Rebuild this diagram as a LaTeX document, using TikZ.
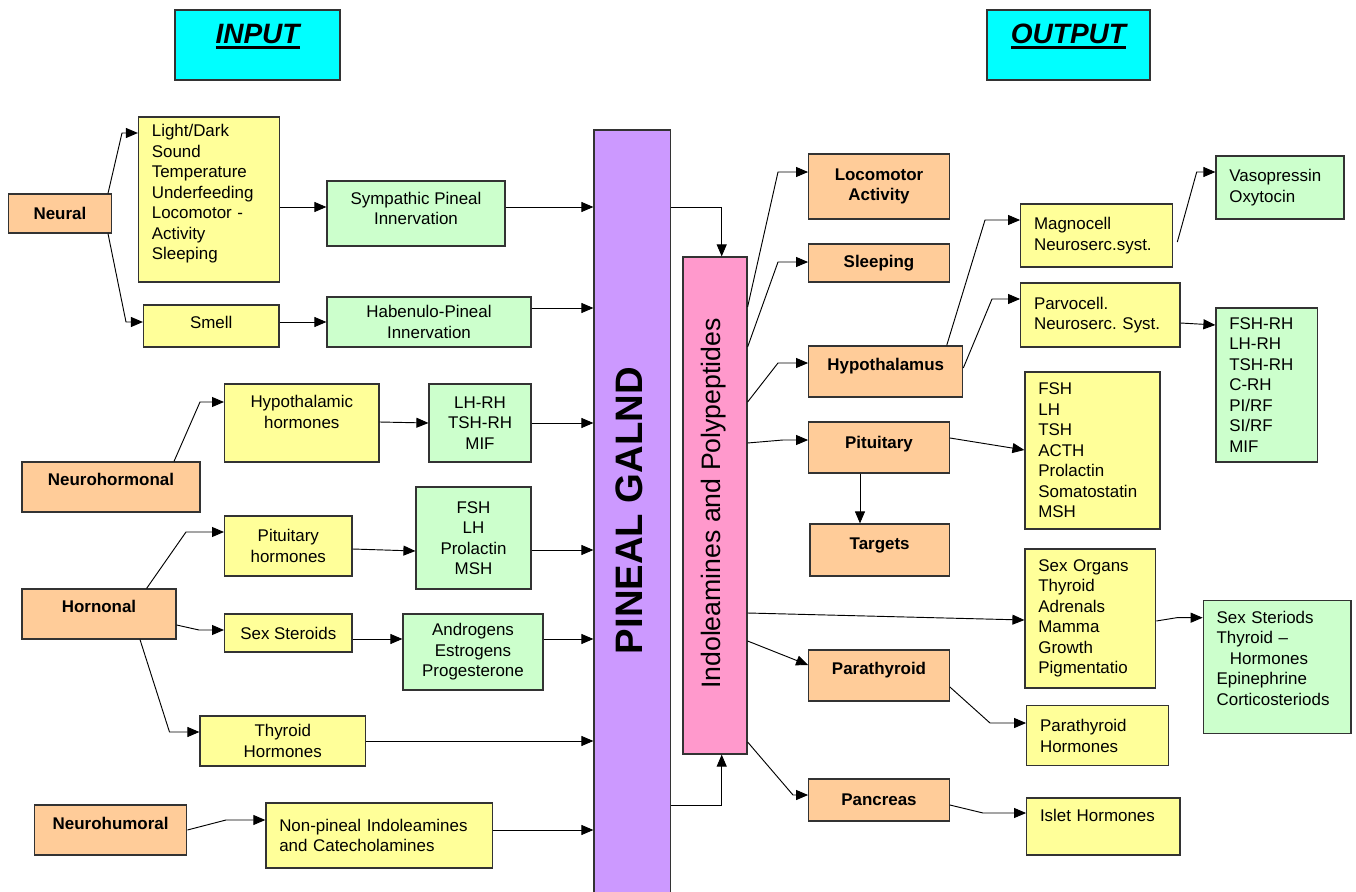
\documentclass[tikz,border=0pt]{standalone}
\usepackage{fontspec}
\setmainfont{Liberation Sans}
\usetikzlibrary{arrows.meta}
\frenchspacing
\definecolor{peach}{HTML}{FFCC99}
\definecolor{lemon}{HTML}{FFFF99}
\definecolor{mint}{HTML}{CCFFCC}
\definecolor{lilac}{HTML}{CC99FF}
\definecolor{rose}{HTML}{FF99CC}
\definecolor{aqua}{HTML}{00FFFF}
\newcommand\ulbold[1]{\setbox0\hbox{#1}\rlap{\rule[-3.75pt]{\wd0}{2pt}}\box0}

\tikzset{
  sz/.style 2 args={minimum width=#1*0.75pt, minimum height=#2*0.75pt},
  box/.style={draw=black!80, line width=0.9pt, inner sep=0pt, align=center, font=\fontsize{12.7}{15.4}\selectfont},
  organ/.style={box, fill=peach, font=\fontsize{12.7}{15.4}\selectfont\bfseries},
  yel/.style={box, fill=lemon},
  grn/.style={box, fill=mint},
  title/.style={box, fill=aqua, font=\fontsize{21}{25}\selectfont\bfseries\itshape, text height=15pt, text depth=16.5pt},
  ltext/.style={align=left, text width=#1, inner xsep=10pt},
  lift/.style={text height=9pt, text depth=#1},
  arr/.style={->, line width=0.7pt},
}

\begin{document}
\begin{tikzpicture}[x=0.75pt, y=-0.75pt, >={Triangle[length=9pt,width=7.5pt]}]
\useasboundingbox (0,0) rectangle (1356,892);
% headings
\node[title, sz={165}{70}] (input) at (257.5,45) {\ulbold{INPUT}};
\node[title, sz={163}{70}] (output) at (1068.5,45) {\ulbold{OUTPUT}};

% input side
\node[organ, sz={103}{39}] (neural) at (59.9,213.5) {Neural};
\node[yel, sz={141}{165}, ltext=85.75pt] (light) at (209,199.5) {Light/Dark\\Sound\\Temperature\\Underfeeding\\Locomotor -\\Activity\\Sleeping\\[-4.5pt]\mbox{}};
\node[grn, sz={178}{65}] (symp) at (416,213.5) {Sympathic Pineal\\Innervation\\[-7.9pt]\mbox{}};
\node[yel, sz={135.5}{42}, lift=6pt] (smell) at (211.25,326) {Smell};
\node[grn, sz={204}{50}] (haben) at (429,322) {Habenulo-Pineal\\Innervation};
\node[organ, sz={178}{50}, lift=12pt] (neurohorm) at (111,487) {Neurohormonal};
\node[yel, sz={154.4}{78}] (hypoh) at (301.8,423) {Hypothalamic\\hormones\\[1.1pt]\mbox{}};
\node[grn, sz={102}{78}] (lhrh) at (480,423) {LH-RH\\TSH-RH\\MIF};
\node[organ, sz={154}{50}, lift=12pt] (hornonal) at (99,614) {Hornonal};
\node[yel, sz={127.4}{60}] (pituh) at (288.3,546) {Pituitary\\hormones};
\node[grn, sz={115}{102}] (fshg) at (473.5,538) {FSH\\LH\\Prolactin\\MSH};
\node[yel, sz={127.4}{38}] (sexst) at (288.3,633) {Sex Steroids};
\node[grn, sz={140}{76}] (andro) at (473,652) {Androgens\\Estrogens\\Progesterone};
\node[yel, sz={165.5}{50}] (thyh) at (282.75,741) {Thyroid\\Hormones};
\node[organ, sz={152.4}{50}, lift=10.5pt] (neurohum) at (110.6,830) {Neurohumoral};
\node[yel, sz={226.5}{65}, ltext=150pt] (nonpin) at (379.25,835.5) {Non-pineal Indoleamines\\and Catecholamines};

% gland and its products
\node[box, fill=lilac, sz={76.7}{770}] (pineal) at (632.35,515) {};
\node[font=\fontsize{28.7}{30}\selectfont\bfseries, rotate=90] (pineal-t) at (629,510.5) {PINEAL GALND};
\node[box, fill=rose, sz={64}{497}] (indol) at (715,505.5) {};
\node[font=\fontsize{20}{24}\selectfont, rotate=90] (indol-t) at (714,503.5) {Indoleamines and Polypeptides};

% output side
\node[organ, sz={140.6}{65}] (loco) at (879,186.5) {Locomotor\\Activity};
\node[organ, sz={140.6}{38}] (sleep) at (879,263) {Sleeping};
\node[organ, sz={154}{51}, lift=11pt] (hypo) at (885.7,371.5) {Hypothalamus};
\node[organ, sz={140.6}{51}, lift=8pt] (pitu) at (879,447.5) {Pituitary};
\node[organ, sz={139.3}{52}, lift=10.5pt] (targ) at (879.65,550) {Targets};
\node[organ, sz={140.6}{51}, lift=11pt] (parat) at (879,675.5) {Parathyroid};
\node[organ, sz={140.6}{42}] (panc) at (879,800) {Pancreas};
\node[yel, sz={152}{63}, ltext=94pt] (magno) at (1096.7,235.5) {Magnocell\\Neuroserc.syst.};
\node[grn, sz={128}{63}, ltext=76pt] (vaso) at (1280,187.5) {Vasopressin\\Oxytocin};
\node[yel, sz={159.3}{64}, ltext=99.5pt] (parvo) at (1100.35,315) {Parvocell.\\Neuroserc. Syst.};
\node[grn, sz={101.7}{154}, ltext=56.3pt] (fshrh) at (1266.85,385) {FSH-RH\\LH-RH\\TSH-RH\\C-RH\\PI/RF\\SI/RF\\MIF};
\node[yel, sz={135}{157}, ltext=81.25pt] (fshy) at (1092.5,450.5) {FSH\\LH\\TSH\\ACTH\\Prolactin\\Somatostatin\\MSH};
\node[yel, sz={130.7}{139}, ltext=78pt] (sexorg) at (1090.35,618.5) {Sex Organs\\Thyroid\\Adrenals\\Mamma\\Growth\\Pigmentatio};
\node[grn, sz={147.7}{132.6}, ltext=90.8pt] (sexster) at (1277.15,667) {Sex Steriods\\Thyroid –\\\hspace*{10pt}Hormones\\Epinephrine\\Corticosteriods\\[-1.9pt]\mbox{}};
\node[yel, sz={141.6}{60}, ltext=86.2pt] (parah) at (1097.5,735.7) {Parathyroid\\Hormones};
\node[yel, sz={153.3}{57}, ltext=95pt, lift=16pt] (islet) at (1103.35,826.5) {Islet Hormones};

% input connectors
\draw[arr] ([xshift=-3pt]neural.north east) -- (122,133) -- (light.west |- 0,133);
\draw[arr] ([xshift=-3pt]neural.south east) -- (126,322) -- (smell.west |- 0,322);
\draw[arr] (light.east |- 0,207) -- (symp.west |- 0,207);
\draw[arr] (smell.east |- 0,322) -- (haben.west |- 0,322);
\draw[arr] (174,0 |- neurohorm.north) -- (200,402) -- (hypoh.west |- 0,402);
\draw[arr] (hypoh.east |- 0,422) -- (lhrh.west |- 0,423);
\draw[arr] (146.6,0 |- hornonal.north) -- (186,532) -- (pituh.west |- 0,532);
\draw[arr] (pituh.east |- 0,549) -- (fshg.west |- 0,551);
\draw[arr] (hornonal.east |- 0,625) -- (199,630) -- (sexst.west |- 0,630);
\draw[arr] (sexst.east |- 0,639) -- (andro.west |- 0,639);
\draw[arr] (140,0 |- hornonal.south) -- (169.5,732) -- (thyh.west |- 0,732);
\draw[arr] (neurohum.east |- 0,830) -- (226,820) -- (nonpin.west |- 0,820);
\foreach \src/\y in {symp/207, haben/308, lhrh/423, fshg/550, andro/639, thyh/741, nonpin/830}
  \draw[arr] (\src.east |- 0,\y) -- (pineal.west |- 0,\y);

% gland to products
\draw[arr] (pineal.east |- 0,207) -- (721.7,207) -- (721.7,0 |- indol.north);
\draw[arr] (pineal.east |- 0,805) -- (721.7,805) -- (721.7,0 |- indol.south);

% output connectors
\draw[arr] (indol.east |- 0,307) -- (778,172) -- (loco.west |- 0,172);
\draw[arr] (indol.east |- 0,347) -- (778,262) -- (sleep.west |- 0,262);
\draw[arr] (indol.east |- 0,402) -- (778,363) -- (hypo.west |- 0,363);
\draw[arr] (indol.east |- 0,443) -- (783,440) -- (pitu.west |- 0,440);
\draw[arr] (860,0 |- pitu.south) -- (860,0 |- targ.north);
\draw[arr] (indol.east |- 0,613) -- (sexorg.west |- 0,620);
\draw[arr] (indol.east |- 0,641) -- (parat.west |- 0,665);
\draw[arr] (indol.east |- 0,742) -- (793,795) -- (panc.west |- 0,795);
\draw[arr] (946.7,0 |- hypo.north) -- (985,220) -- (magno.west |- 0,220);
\draw[arr] (hypo.east |- 0,368) -- (992,299) -- (parvo.west |- 0,299);
\draw[arr] ([xshift=3pt]magno.east |- 0,242) -- (1196.7,172) -- (vaso.west |- 0,172);
\draw[arr] (parvo.east |- 0,323) -- (fshrh.west |- 0,325);
\draw[arr] (pitu.east |- 0,438) -- (fshy.west |- 0,450);
\draw[arr] (sexorg.east |- 0,621) -- (1176.7,617.7) -- (sexster.west |- 0,617.7);
\draw[arr] (parat.east |- 0,687) -- (990,723) -- (parah.west |- 0,723);
\draw[arr] (panc.east |- 0,805) -- (983,813) -- (islet.west |- 0,813);
\end{tikzpicture}
\end{document}
